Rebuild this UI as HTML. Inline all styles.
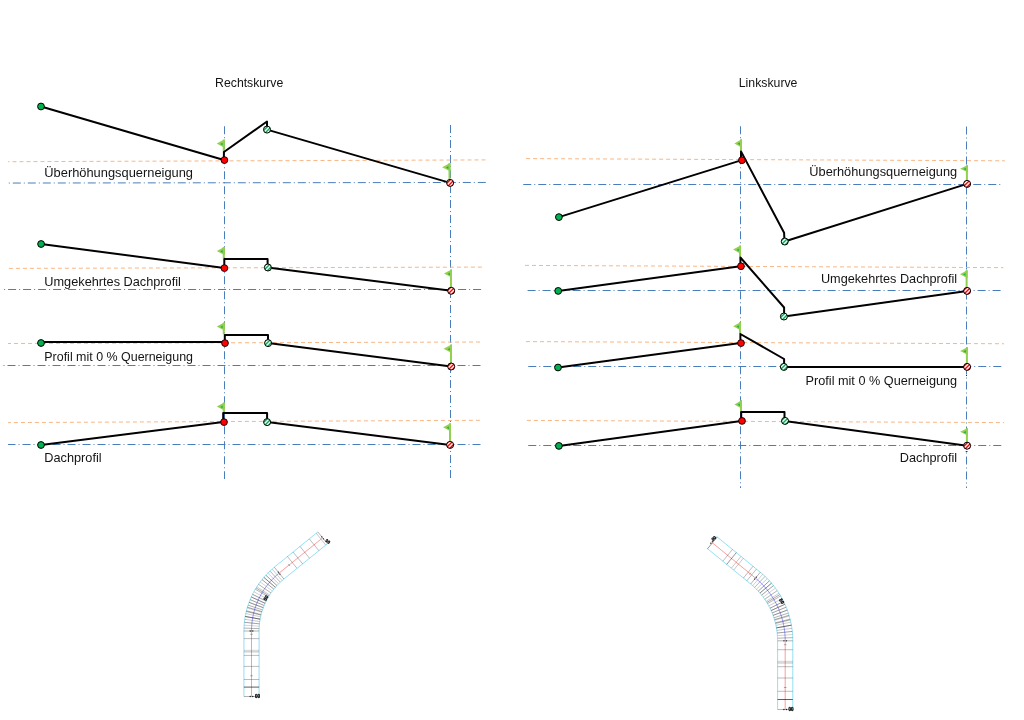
<!DOCTYPE html>
<html><head><meta charset="utf-8"><title>Querneigung</title>
<style>
html,body{margin:0;padding:0;background:#fff;}
body{width:1024px;height:720px;overflow:hidden;font-family:"Liberation Sans",sans-serif;}
svg{display:block;opacity:.999;will-change:opacity}
text{font-family:"Liberation Sans",sans-serif;fill:#141414;}
</style></head><body>
<svg width="1024" height="720" viewBox="0 0 1024 720">

<line x1="224.5" y1="126.25" x2="224.5" y2="479" stroke="#4a7ebb" stroke-width="1" stroke-dasharray="8 3 1 3" stroke-dashoffset="0"/>
<line x1="450.5" y1="125" x2="450.5" y2="479" stroke="#4a7ebb" stroke-width="1" stroke-dasharray="8 3 1 3" stroke-dashoffset="0"/>
<line x1="740.5" y1="126.25" x2="740.5" y2="488" stroke="#4a7ebb" stroke-width="1" stroke-dasharray="8 3 1 3" stroke-dashoffset="0"/>
<line x1="966.5" y1="126.5" x2="966.5" y2="488" stroke="#4a7ebb" stroke-width="1" stroke-dasharray="8 3 1 3" stroke-dashoffset="0"/>
<line x1="8.1" y1="161.7" x2="486.3" y2="159.9" stroke="#f8ae76" stroke-width="0.9" stroke-dasharray="4 3" stroke-dashoffset="2.6"/>
<line x1="8.3" y1="183.05" x2="486.1" y2="182.45" stroke="#4a7ebb" stroke-width="1" stroke-dasharray="8 3 1 3" stroke-dashoffset="10.5"/>
<line x1="8.1" y1="268.4" x2="482" y2="267.1" stroke="#f8ae76" stroke-width="0.9" stroke-dasharray="4 3" stroke-dashoffset="6.2"/>
<line x1="4.1" y1="289.5" x2="481.2" y2="289.5" stroke="#4a7ebb" stroke-width="1" stroke-dasharray="8 3 1 3" stroke-dashoffset="11"/>
<line x1="8" y1="343.5" x2="481" y2="342" stroke="#f8ae76" stroke-width="0.9" stroke-dasharray="4 3" stroke-dashoffset="0.95"/>
<line x1="3.5" y1="365.5" x2="480.6" y2="365.5" stroke="#4a7ebb" stroke-width="1" stroke-dasharray="8 3 1 3" stroke-dashoffset="11"/>
<line x1="8" y1="422.6" x2="482" y2="420.3" stroke="#f8ae76" stroke-width="0.9" stroke-dasharray="4 3" stroke-dashoffset="1.1"/>
<line x1="8" y1="444.5" x2="480.6" y2="444.5" stroke="#4a7ebb" stroke-width="1" stroke-dasharray="8 3 1 3" stroke-dashoffset="0.5"/>
<rect x="222.75" y="139.6" width="2" height="12.4" fill="#92d050"/>
<path d="M224.75,139.3 L216.75,143.6 L224.75,147.9 Z" fill="#92d050"/>
<path d="M222.65,142.7 L220.25,144 L222.65,145.3 Z" fill="#1cae4e"/>
<rect x="448.5" y="163.1" width="2" height="16.9" fill="#92d050"/>
<path d="M450.5,162.8 L442.1,167.2 L450.5,171.6 Z" fill="#92d050"/>
<path d="M448.4,166.3 L446,167.6 L448.4,168.9 Z" fill="#1cae4e"/>
<polyline points="41,106.5 223.9,160 223.9,152 267,121.5 267,129.6 450.1,182.9" fill="none" stroke="#000" stroke-width="2" stroke-linejoin="round"/>
<circle cx="41" cy="106.5" r="3.4" fill="#00b050" stroke="#000" stroke-width="1"/>
<circle cx="224.4" cy="160.1" r="3.4" fill="#ff0000" stroke="#000" stroke-width="0.9"/>
<clipPath id="c1"><circle cx="267" cy="129.6" r="3.5"/></clipPath>
<circle cx="267" cy="129.6" r="3.5" fill="#00b050"/>
<g clip-path="url(#c1)" stroke="#fff" stroke-width="1.4"><line x1="260.75" y1="131.35" x2="268.75" y2="123.35"/><line x1="262.75" y1="133.35" x2="270.75" y2="125.35"/><line x1="264.75" y1="135.35" x2="272.75" y2="127.35"/></g>
<circle cx="267" cy="129.6" r="3.5" fill="none" stroke="#000" stroke-width="1"/>
<clipPath id="c2"><circle cx="450.1" cy="182.9" r="3.5"/></clipPath>
<circle cx="450.1" cy="182.9" r="3.5" fill="#ff0000"/>
<g clip-path="url(#c2)" stroke="#fff" stroke-width="1.4"><line x1="443.65" y1="184.45" x2="451.65" y2="176.45"/><line x1="445.65" y1="186.45" x2="453.65" y2="178.45"/><line x1="447.65" y1="188.45" x2="455.65" y2="180.45"/></g>
<circle cx="450.1" cy="182.9" r="3.5" fill="none" stroke="#000" stroke-width="1"/>
<text x="44.3" y="177.4" font-size="12.8" text-anchor="start" textLength="148.7" lengthAdjust="spacingAndGlyphs">Überhöhungsquerneigung</text>
<rect x="222.75" y="247" width="2" height="11.5" fill="#92d050"/>
<path d="M224.75,246.7 L216.75,251 L224.75,255.3 Z" fill="#92d050"/>
<path d="M222.65,250.1 L220.25,251.4 L222.65,252.7 Z" fill="#1cae4e"/>
<rect x="450" y="269.5" width="2" height="17.5" fill="#92d050"/>
<path d="M452,269.2 L444,273.5 L452,277.8 Z" fill="#92d050"/>
<path d="M449.9,272.6 L447.5,273.9 L449.9,275.2 Z" fill="#1cae4e"/>
<polyline points="41.1,244 224.3,268 224.3,259.1 267.6,259.1 267.6,267.5 451.2,290.8" fill="none" stroke="#000" stroke-width="2" stroke-linejoin="round"/>
<circle cx="41.1" cy="244" r="3.4" fill="#00b050" stroke="#000" stroke-width="1"/>
<circle cx="224.4" cy="268.1" r="3.4" fill="#ff0000" stroke="#000" stroke-width="0.9"/>
<clipPath id="c3"><circle cx="267.9" cy="267.5" r="3.5"/></clipPath>
<circle cx="267.9" cy="267.5" r="3.5" fill="#00b050"/>
<g clip-path="url(#c3)" stroke="#fff" stroke-width="1.4"><line x1="262.25" y1="269.85" x2="270.25" y2="261.85"/><line x1="264.25" y1="271.85" x2="272.25" y2="263.85"/><line x1="266.25" y1="273.85" x2="274.25" y2="265.85"/></g>
<circle cx="267.9" cy="267.5" r="3.5" fill="none" stroke="#000" stroke-width="1"/>
<clipPath id="c4"><circle cx="451.2" cy="290.8" r="3.5"/></clipPath>
<circle cx="451.2" cy="290.8" r="3.5" fill="#ff0000"/>
<g clip-path="url(#c4)" stroke="#fff" stroke-width="1.4"><line x1="444.25" y1="291.85" x2="452.25" y2="283.85"/><line x1="446.25" y1="293.85" x2="454.25" y2="285.85"/><line x1="448.25" y1="295.85" x2="456.25" y2="287.85"/><line x1="450.25" y1="297.85" x2="458.25" y2="289.85"/></g>
<circle cx="451.2" cy="290.8" r="3.5" fill="none" stroke="#000" stroke-width="1"/>
<text x="44.3" y="285.8" font-size="12.8" text-anchor="start" textLength="136.6" lengthAdjust="spacingAndGlyphs">Umgekehrtes Dachprofil</text>
<rect x="222.75" y="322.5" width="2" height="12" fill="#92d050"/>
<path d="M224.75,322.2 L216.75,326.5 L224.75,330.8 Z" fill="#92d050"/>
<path d="M222.65,325.6 L220.25,326.9 L222.65,328.2 Z" fill="#1cae4e"/>
<rect x="450" y="344.6" width="2" height="18.4" fill="#92d050"/>
<path d="M452,344.3 L443.6,348.8 L452,353.3 Z" fill="#92d050"/>
<path d="M449.9,347.9 L447.5,349.2 L449.9,350.5 Z" fill="#1cae4e"/>
<polyline points="41,342.1 224.8,342.1 224.8,335 268,335 268,343.1 451.2,366.5" fill="none" stroke="#000" stroke-width="2" stroke-linejoin="round"/>
<circle cx="41" cy="343" r="3.4" fill="#00b050" stroke="#000" stroke-width="1"/>
<circle cx="225" cy="343.1" r="3.4" fill="#ff0000" stroke="#000" stroke-width="0.9"/>
<clipPath id="c5"><circle cx="268.1" cy="343.1" r="3.5"/></clipPath>
<circle cx="268.1" cy="343.1" r="3.5" fill="#00b050"/>
<g clip-path="url(#c5)" stroke="#fff" stroke-width="1.4"><line x1="262.55" y1="345.55" x2="270.55" y2="337.55"/><line x1="264.55" y1="347.55" x2="272.55" y2="339.55"/><line x1="266.55" y1="349.55" x2="274.55" y2="341.55"/></g>
<circle cx="268.1" cy="343.1" r="3.5" fill="none" stroke="#000" stroke-width="1"/>
<clipPath id="c6"><circle cx="451.2" cy="366.5" r="3.5"/></clipPath>
<circle cx="451.2" cy="366.5" r="3.5" fill="#ff0000"/>
<g clip-path="url(#c6)" stroke="#fff" stroke-width="1.4"><line x1="444.4" y1="367.7" x2="452.4" y2="359.7"/><line x1="446.4" y1="369.7" x2="454.4" y2="361.7"/><line x1="448.4" y1="371.7" x2="456.4" y2="363.7"/><line x1="450.4" y1="373.7" x2="458.4" y2="365.7"/></g>
<circle cx="451.2" cy="366.5" r="3.5" fill="none" stroke="#000" stroke-width="1"/>
<text x="44.3" y="361.3" font-size="12.8" text-anchor="start" textLength="148.7" lengthAdjust="spacingAndGlyphs">Profil mit 0 % Querneigung</text>
<rect x="222.75" y="402.5" width="2" height="10" fill="#92d050"/>
<path d="M224.75,402.2 L216.75,406.5 L224.75,410.8 Z" fill="#92d050"/>
<path d="M222.65,405.6 L220.25,406.9 L222.65,408.2 Z" fill="#1cae4e"/>
<rect x="449" y="423.3" width="2" height="17.7" fill="#92d050"/>
<path d="M451,423 L443,427.3 L451,431.6 Z" fill="#92d050"/>
<path d="M448.9,426.4 L446.5,427.7 L448.9,429 Z" fill="#1cae4e"/>
<polyline points="41,445 223.2,422 223.2,413 267.1,413 267.1,422.1 450.1,444.9" fill="none" stroke="#000" stroke-width="2" stroke-linejoin="round"/>
<circle cx="41" cy="445" r="3.4" fill="#00b050" stroke="#000" stroke-width="1"/>
<circle cx="224" cy="422.1" r="3.4" fill="#ff0000" stroke="#000" stroke-width="0.9"/>
<clipPath id="c7"><circle cx="267.1" cy="422.1" r="3.5"/></clipPath>
<circle cx="267.1" cy="422.1" r="3.5" fill="#00b050"/>
<g clip-path="url(#c7)" stroke="#fff" stroke-width="1.4"><line x1="260.55" y1="423.55" x2="268.55" y2="415.55"/><line x1="262.55" y1="425.55" x2="270.55" y2="417.55"/><line x1="264.55" y1="427.55" x2="272.55" y2="419.55"/><line x1="266.55" y1="429.55" x2="274.55" y2="421.55"/></g>
<circle cx="267.1" cy="422.1" r="3.5" fill="none" stroke="#000" stroke-width="1"/>
<clipPath id="c8"><circle cx="450.1" cy="444.9" r="3.5"/></clipPath>
<circle cx="450.1" cy="444.9" r="3.5" fill="#ff0000"/>
<g clip-path="url(#c8)" stroke="#fff" stroke-width="1.4"><line x1="442.65" y1="445.45" x2="450.65" y2="437.45"/><line x1="444.65" y1="447.45" x2="452.65" y2="439.45"/><line x1="446.65" y1="449.45" x2="454.65" y2="441.45"/><line x1="448.65" y1="451.45" x2="456.65" y2="443.45"/></g>
<circle cx="450.1" cy="444.9" r="3.5" fill="none" stroke="#000" stroke-width="1"/>
<text x="44.3" y="461.9" font-size="12.8" text-anchor="start" textLength="57.3" lengthAdjust="spacingAndGlyphs">Dachprofil</text>
<line x1="526.1" y1="158.6" x2="1004.8" y2="160.8" stroke="#f8ae76" stroke-width="0.9" stroke-dasharray="4 3"/>
<line x1="523.25" y1="184.5" x2="1001" y2="184.5" stroke="#4a7ebb" stroke-width="1" stroke-dasharray="8 3 1 3" stroke-dashoffset="0"/>
<line x1="525" y1="265.4" x2="1003.3" y2="267.65" stroke="#f8ae76" stroke-width="0.9" stroke-dasharray="4 3"/>
<line x1="527.6" y1="290.5" x2="1003.3" y2="290.5" stroke="#4a7ebb" stroke-width="1" stroke-dasharray="8 3 1 3" stroke-dashoffset="0"/>
<line x1="526" y1="341.6" x2="1004" y2="343.75" stroke="#f8ae76" stroke-width="0.9" stroke-dasharray="4 3"/>
<line x1="528.25" y1="366.5" x2="1004" y2="366.5" stroke="#4a7ebb" stroke-width="1" stroke-dasharray="8 3 1 3" stroke-dashoffset="0"/>
<line x1="526.9" y1="420.4" x2="1004" y2="422.6" stroke="#f8ae76" stroke-width="0.9" stroke-dasharray="4 3"/>
<line x1="528.25" y1="445.5" x2="1004" y2="445.5" stroke="#4a7ebb" stroke-width="1" stroke-dasharray="8 3 1 3" stroke-dashoffset="0"/>
<rect x="740" y="139.4" width="2" height="12.1" fill="#92d050"/>
<path d="M742,139.1 L734.4,143.4 L742,147.7 Z" fill="#92d050"/>
<path d="M739.9,142.5 L737.5,143.8 L739.9,145.1 Z" fill="#1cae4e"/>
<rect x="965.9" y="165.3" width="2" height="15.2" fill="#92d050"/>
<path d="M967.9,165 L960.1,168.65 L967.9,172.3 Z" fill="#92d050"/>
<path d="M965.8,167.75 L963.4,169.05 L965.8,170.35 Z" fill="#1cae4e"/>
<polyline points="558.9,217.1 741,160.4 741,151.4 784.1,232.75 784.5,241.5 967.1,183.9" fill="none" stroke="#000" stroke-width="2" stroke-linejoin="round"/>
<circle cx="558.9" cy="217.1" r="3.4" fill="#00b050" stroke="#000" stroke-width="1"/>
<circle cx="741.9" cy="160.25" r="3.4" fill="#ff0000" stroke="#000" stroke-width="0.9"/>
<clipPath id="c9"><circle cx="784.75" cy="241.5" r="3.5"/></clipPath>
<circle cx="784.75" cy="241.5" r="3.5" fill="#00b050"/>
<g clip-path="url(#c9)" stroke="#fff" stroke-width="1.4"><line x1="777.67" y1="242.43" x2="785.67" y2="234.43"/><line x1="779.67" y1="244.42" x2="787.67" y2="236.42"/><line x1="781.67" y1="246.42" x2="789.67" y2="238.42"/><line x1="783.67" y1="248.42" x2="791.67" y2="240.42"/></g>
<circle cx="784.75" cy="241.5" r="3.5" fill="none" stroke="#000" stroke-width="1"/>
<clipPath id="c10"><circle cx="967.1" cy="183.9" r="3.5"/></clipPath>
<circle cx="967.1" cy="183.9" r="3.5" fill="#ff0000"/>
<g clip-path="url(#c10)" stroke="#fff" stroke-width="1.4"><line x1="959.65" y1="184.45" x2="967.65" y2="176.45"/><line x1="961.65" y1="186.45" x2="969.65" y2="178.45"/><line x1="963.65" y1="188.45" x2="971.65" y2="180.45"/><line x1="965.65" y1="190.45" x2="973.65" y2="182.45"/></g>
<circle cx="967.1" cy="183.9" r="3.5" fill="none" stroke="#000" stroke-width="1"/>
<text x="957.1" y="175.8" font-size="12.8" text-anchor="end" textLength="147.8" lengthAdjust="spacingAndGlyphs">Überhöhungsquerneigung</text>
<rect x="739" y="245.6" width="2" height="11.9" fill="#92d050"/>
<path d="M741,245.3 L733.1,249.6 L741,253.9 Z" fill="#92d050"/>
<path d="M738.9,248.7 L736.5,250 L738.9,251.3 Z" fill="#1cae4e"/>
<rect x="965.6" y="270.3" width="2" height="17.2" fill="#92d050"/>
<path d="M967.6,270 L960,274.15 L967.6,278.3 Z" fill="#92d050"/>
<path d="M965.5,273.25 L963.1,274.55 L965.5,275.85 Z" fill="#1cae4e"/>
<polyline points="558.2,290.9 740.4,266.2 740.4,257.5 784.1,307.5 784.1,316.5 967.1,290.9" fill="none" stroke="#000" stroke-width="2" stroke-linejoin="round"/>
<circle cx="558.2" cy="290.9" r="3.4" fill="#00b050" stroke="#000" stroke-width="1"/>
<circle cx="741" cy="266.25" r="3.4" fill="#ff0000" stroke="#000" stroke-width="0.9"/>
<clipPath id="c11"><circle cx="783.9" cy="316.5" r="3.5"/></clipPath>
<circle cx="783.9" cy="316.5" r="3.5" fill="#00b050"/>
<g clip-path="url(#c11)" stroke="#fff" stroke-width="1.4"><line x1="777.75" y1="318.35" x2="785.75" y2="310.35"/><line x1="779.75" y1="320.35" x2="787.75" y2="312.35"/><line x1="781.75" y1="322.35" x2="789.75" y2="314.35"/></g>
<circle cx="783.9" cy="316.5" r="3.5" fill="none" stroke="#000" stroke-width="1"/>
<clipPath id="c12"><circle cx="967.1" cy="290.9" r="3.5"/></clipPath>
<circle cx="967.1" cy="290.9" r="3.5" fill="#ff0000"/>
<g clip-path="url(#c12)" stroke="#fff" stroke-width="1.4"><line x1="960.15" y1="291.95" x2="968.15" y2="283.95"/><line x1="962.15" y1="293.95" x2="970.15" y2="285.95"/><line x1="964.15" y1="295.95" x2="972.15" y2="287.95"/><line x1="966.15" y1="297.95" x2="974.15" y2="289.95"/></g>
<circle cx="967.1" cy="290.9" r="3.5" fill="none" stroke="#000" stroke-width="1"/>
<text x="957.1" y="283.4" font-size="12.8" text-anchor="end" textLength="136.2" lengthAdjust="spacingAndGlyphs">Umgekehrtes Dachprofil</text>
<rect x="739" y="322.25" width="2" height="11.75" fill="#92d050"/>
<path d="M741,321.95 L733.1,326.25 L741,330.55 Z" fill="#92d050"/>
<path d="M738.9,325.35 L736.5,326.65 L738.9,327.95 Z" fill="#1cae4e"/>
<rect x="965.9" y="347.2" width="2" height="16.3" fill="#92d050"/>
<path d="M967.9,346.9 L960.1,350.95 L967.9,355 Z" fill="#92d050"/>
<path d="M965.8,350.05 L963.4,351.35 L965.8,352.65 Z" fill="#1cae4e"/>
<polyline points="558,367.5 740.4,343 740.4,334 784.1,359 784.1,366.9 967.1,366.9" fill="none" stroke="#000" stroke-width="2" stroke-linejoin="round"/>
<circle cx="558" cy="367.5" r="3.4" fill="#00b050" stroke="#000" stroke-width="1"/>
<circle cx="741" cy="343.1" r="3.4" fill="#ff0000" stroke="#000" stroke-width="0.9"/>
<clipPath id="c13"><circle cx="783.9" cy="366.9" r="3.5"/></clipPath>
<circle cx="783.9" cy="366.9" r="3.5" fill="#00b050"/>
<g clip-path="url(#c13)" stroke="#fff" stroke-width="1.4"><line x1="776.55" y1="367.55" x2="784.55" y2="359.55"/><line x1="778.55" y1="369.55" x2="786.55" y2="361.55"/><line x1="780.55" y1="371.55" x2="788.55" y2="363.55"/><line x1="782.55" y1="373.55" x2="790.55" y2="365.55"/></g>
<circle cx="783.9" cy="366.9" r="3.5" fill="none" stroke="#000" stroke-width="1"/>
<clipPath id="c14"><circle cx="967.1" cy="366.9" r="3.5"/></clipPath>
<circle cx="967.1" cy="366.9" r="3.5" fill="#ff0000"/>
<g clip-path="url(#c14)" stroke="#fff" stroke-width="1.4"><line x1="960.15" y1="367.95" x2="968.15" y2="359.95"/><line x1="962.15" y1="369.95" x2="970.15" y2="361.95"/><line x1="964.15" y1="371.95" x2="972.15" y2="363.95"/><line x1="966.15" y1="373.95" x2="974.15" y2="365.95"/></g>
<circle cx="967.1" cy="366.9" r="3.5" fill="none" stroke="#000" stroke-width="1"/>
<text x="957.1" y="384.9" font-size="12.8" text-anchor="end" textLength="151.5" lengthAdjust="spacingAndGlyphs">Profil mit 0 % Querneigung</text>
<rect x="740" y="400.4" width="2" height="11.1" fill="#92d050"/>
<path d="M742,400.1 L734.4,404.4 L742,408.7 Z" fill="#92d050"/>
<path d="M739.9,403.5 L737.5,404.8 L739.9,406.1 Z" fill="#1cae4e"/>
<rect x="965.9" y="428.2" width="2" height="14.3" fill="#92d050"/>
<path d="M967.9,427.9 L960.1,431.8 L967.9,435.7 Z" fill="#92d050"/>
<path d="M965.8,430.9 L963.4,432.2 L965.8,433.5 Z" fill="#1cae4e"/>
<polyline points="558.9,445.9 741.2,420.9 741.2,412.1 784.5,412.1 784.5,420.9 967.1,445.7" fill="none" stroke="#000" stroke-width="2" stroke-linejoin="round"/>
<circle cx="558.9" cy="445.9" r="3.4" fill="#00b050" stroke="#000" stroke-width="1"/>
<circle cx="742" cy="420.9" r="3.4" fill="#ff0000" stroke="#000" stroke-width="0.9"/>
<clipPath id="c15"><circle cx="785" cy="420.9" r="3.5"/></clipPath>
<circle cx="785" cy="420.9" r="3.5" fill="#00b050"/>
<g clip-path="url(#c15)" stroke="#fff" stroke-width="1.4"><line x1="778.1" y1="422" x2="786.1" y2="414"/><line x1="780.1" y1="424" x2="788.1" y2="416"/><line x1="782.1" y1="426" x2="790.1" y2="418"/><line x1="784.1" y1="428" x2="792.1" y2="420"/></g>
<circle cx="785" cy="420.9" r="3.5" fill="none" stroke="#000" stroke-width="1"/>
<clipPath id="c16"><circle cx="967.1" cy="445.7" r="3.5"/></clipPath>
<circle cx="967.1" cy="445.7" r="3.5" fill="#ff0000"/>
<g clip-path="url(#c16)" stroke="#fff" stroke-width="1.4"><line x1="960.75" y1="447.35" x2="968.75" y2="439.35"/><line x1="962.75" y1="449.35" x2="970.75" y2="441.35"/><line x1="964.75" y1="451.35" x2="972.75" y2="443.35"/></g>
<circle cx="967.1" cy="445.7" r="3.5" fill="none" stroke="#000" stroke-width="1"/>
<text x="957.1" y="461.9" font-size="12.8" text-anchor="end" textLength="57.3" lengthAdjust="spacingAndGlyphs">Dachprofil</text>
<text x="215.1" y="86.8" font-size="12.7" text-anchor="start" textLength="68.1" lengthAdjust="spacingAndGlyphs">Rechtskurve</text>
<text x="738.75" y="86.8" font-size="12.7" text-anchor="start" textLength="58.7" lengthAdjust="spacingAndGlyphs">Linkskurve</text>
<rect x="965.7" y="451" width="1.8" height="1" fill="#333"/><rect x="966" y="375" width="1" height="1" fill="#222"/>
<g fill="none" stroke-linecap="butt">
<polyline points="243.9,696.5 243.9,631 243.91,629.78 243.94,628.56 243.98,627.35 244.04,626.13 244.13,624.92 244.23,623.7 244.34,622.49 244.48,621.28 244.63,620.07 244.8,618.86 244.99,617.66 245.2,616.46 245.42,615.26 245.66,614.07 245.92,612.88 246.2,611.69 246.5,610.51 246.81,609.34 247.14,608.16 247.49,607 247.85,605.83 248.23,604.68 248.63,603.53 249.05,602.38 249.48,601.24 249.93,600.11 250.4,598.99 250.88,597.87 251.38,596.76 251.9,595.66 252.43,594.56 252.98,593.47 253.54,592.39 254.12,591.32 254.72,590.26 255.33,589.21 255.96,588.16 256.6,587.13 257.26,586.11 257.94,585.09 258.62,584.09 259.33,583.09 260.05,582.11 260.78,581.13 261.53,580.17 262.29,579.22 263.06,578.28 263.85,577.35 264.65,576.44 265.47,575.53 266.3,574.64 267.14,573.76 268,572.9 268.87,572.04 269.75,571.2 270.64,570.37 271.55,569.56 272.46,568.76 273.39,567.97 274.33,567.2 317.85,531.95" stroke="#79d8f2" stroke-width="0.8"/>
<polyline points="259.1,696.5 259.1,631 259.11,630.01 259.13,629.02 259.17,628.02 259.22,627.03 259.28,626.04 259.36,625.05 259.46,624.07 259.57,623.08 259.7,622.09 259.83,621.11 259.99,620.13 260.16,619.15 260.34,618.18 260.54,617.2 260.75,616.24 260.98,615.27 261.22,614.31 261.47,613.35 261.74,612.39 262.02,611.44 262.32,610.49 262.63,609.55 262.96,608.61 263.3,607.68 263.65,606.75 264.02,605.83 264.4,604.91 264.79,604 265.2,603.1 265.62,602.2 266.05,601.31 266.5,600.42 266.96,599.54 267.43,598.67 267.92,597.8 268.42,596.95 268.93,596.09 269.45,595.25 269.99,594.42 270.54,593.59 271.1,592.77 271.67,591.96 272.26,591.16 272.85,590.37 273.46,589.58 274.08,588.81 274.71,588.04 275.36,587.29 276.01,586.54 276.68,585.8 277.35,585.08 278.04,584.36 278.74,583.65 279.44,582.96 280.16,582.27 280.89,581.6 281.63,580.93 282.37,580.28 283.13,579.64 283.9,579.01 327.42,543.77" stroke="#79d8f2" stroke-width="0.8"/>
<line x1="251.5" y1="696.5" x2="251.5" y2="631" stroke="#ff5a5a" stroke-width="0.6"/>
<polyline points="251.5,631 251.51,629.89 251.53,628.79 251.57,627.69 251.63,626.58 251.7,625.48 251.79,624.38 251.9,623.28 252.02,622.18 252.16,621.08 252.32,619.99 252.49,618.9 252.68,617.81 252.88,616.72 253.1,615.64 253.34,614.56 253.59,613.48 253.86,612.41 254.14,611.34 254.44,610.28 254.76,609.22 255.09,608.16 255.43,607.11 255.79,606.07 256.17,605.03 256.57,604 256.97,602.97 257.4,601.95 257.84,600.94 258.29,599.93 258.76,598.93 259.24,597.93 259.74,596.95 260.25,595.97 260.78,595 261.32,594.03 261.87,593.08 262.44,592.13 263.03,591.19 263.63,590.26 264.24,589.34 264.86,588.43 265.5,587.53 266.15,586.63 266.82,585.75 267.49,584.88 268.18,584.01 268.89,583.16 269.6,582.32 270.33,581.49 271.07,580.67 271.83,579.86 272.59,579.06 273.37,578.27 274.15,577.5 274.95,576.74 275.76,575.99 276.59,575.25 277.42,574.52 278.26,573.8 279.12,573.1" stroke="#5555ff" stroke-width="0.6"/>
<line x1="279.12" y1="573.1" x2="322.64" y2="537.86" stroke="#ff5a5a" stroke-width="0.6"/>
<line x1="243.9" y1="696.5" x2="259.1" y2="696.5" stroke="#222" stroke-width="0.5" stroke-opacity="0.7"/>
<line x1="243.9" y1="687.1" x2="259.1" y2="687.1" stroke="#222" stroke-width="0.8" stroke-opacity="0.9"/>
<line x1="243.9" y1="679.5" x2="259.1" y2="679.5" stroke="#222" stroke-width="0.5" stroke-opacity="0.6"/>
<line x1="243.9" y1="666.4" x2="259.1" y2="666.4" stroke="#222" stroke-width="0.5" stroke-opacity="0.6"/>
<line x1="243.9" y1="655.4" x2="259.1" y2="655.4" stroke="#222" stroke-width="0.5" stroke-opacity="0.6"/>
<line x1="243.9" y1="652.2" x2="259.1" y2="652.2" stroke="#222" stroke-width="0.5" stroke-opacity="0.35"/>
<line x1="243.9" y1="651.3" x2="259.1" y2="651.3" stroke="#222" stroke-width="0.5" stroke-opacity="0.35"/>
<line x1="243.9" y1="650.3" x2="259.1" y2="650.3" stroke="#222" stroke-width="0.5" stroke-opacity="0.35"/>
<line x1="243.9" y1="638.6" x2="259.1" y2="638.6" stroke="#222" stroke-width="0.5" stroke-opacity="0.6"/>
<line x1="243.9" y1="631" x2="259.1" y2="631" stroke="#222" stroke-width="0.5" stroke-opacity="0.7"/>
<line x1="250.2" y1="675.8" x2="252.8" y2="675.8" stroke="#222" stroke-width="0.5" stroke-opacity=".7"/>
<line x1="250.2" y1="634.3" x2="252.8" y2="634.3" stroke="#222" stroke-width="0.5" stroke-opacity=".7"/>
<line x1="288.31" y1="563.98" x2="289.95" y2="566" stroke="#222" stroke-width="0.5" stroke-opacity=".7"/>
<line x1="243.95" y1="628.08" x2="259.14" y2="628.62" stroke="#222" stroke-width="0.5" stroke-opacity="0.7"/>
<line x1="244.11" y1="625.16" x2="259.27" y2="626.24" stroke="#222" stroke-width="0.5" stroke-opacity="0.4"/>
<line x1="244.37" y1="622.25" x2="259.48" y2="623.87" stroke="#222" stroke-width="0.5" stroke-opacity="0.85"/>
<line x1="244.73" y1="619.35" x2="259.78" y2="621.5" stroke="#222" stroke-width="0.5" stroke-opacity="0.5"/>
<line x1="245.2" y1="616.46" x2="260.16" y2="619.15" stroke="#222" stroke-width="0.5" stroke-opacity="0.9"/>
<line x1="245.77" y1="613.59" x2="260.62" y2="616.82" stroke="#222" stroke-width="0.5" stroke-opacity="0.45"/>
<line x1="246.44" y1="610.75" x2="261.17" y2="614.5" stroke="#222" stroke-width="0.5" stroke-opacity="0.65"/>
<line x1="247.21" y1="607.93" x2="261.8" y2="612.2" stroke="#222" stroke-width="0.5" stroke-opacity="0.45"/>
<line x1="248.08" y1="605.14" x2="262.51" y2="609.93" stroke="#222" stroke-width="0.5" stroke-opacity="0.7"/>
<line x1="249.05" y1="602.38" x2="263.3" y2="607.68" stroke="#222" stroke-width="0.5" stroke-opacity="0.4"/>
<line x1="250.12" y1="599.66" x2="264.17" y2="605.46" stroke="#222" stroke-width="0.5" stroke-opacity="0.85"/>
<line x1="251.28" y1="596.98" x2="265.11" y2="603.28" stroke="#222" stroke-width="0.5" stroke-opacity="0.5"/>
<line x1="252.54" y1="594.34" x2="266.14" y2="601.13" stroke="#222" stroke-width="0.5" stroke-opacity="0.9"/>
<line x1="253.89" y1="591.75" x2="267.24" y2="599.02" stroke="#222" stroke-width="0.5" stroke-opacity="0.45"/>
<line x1="255.33" y1="589.21" x2="268.42" y2="596.95" stroke="#222" stroke-width="0.5" stroke-opacity="0.65"/>
<line x1="256.87" y1="586.72" x2="269.67" y2="594.92" stroke="#222" stroke-width="0.5" stroke-opacity="0.45"/>
<line x1="258.49" y1="584.29" x2="270.99" y2="592.93" stroke="#222" stroke-width="0.5" stroke-opacity="0.7"/>
<line x1="260.19" y1="581.91" x2="272.38" y2="591" stroke="#222" stroke-width="0.5" stroke-opacity="0.4"/>
<line x1="261.98" y1="579.6" x2="273.83" y2="589.12" stroke="#222" stroke-width="0.5" stroke-opacity="0.85"/>
<line x1="263.85" y1="577.35" x2="275.36" y2="587.29" stroke="#222" stroke-width="0.5" stroke-opacity="0.5"/>
<line x1="265.8" y1="575.18" x2="276.95" y2="585.51" stroke="#222" stroke-width="0.5" stroke-opacity="0.9"/>
<line x1="267.83" y1="573.07" x2="278.6" y2="583.79" stroke="#222" stroke-width="0.5" stroke-opacity="0.45"/>
<line x1="269.92" y1="571.03" x2="280.31" y2="582.14" stroke="#222" stroke-width="0.5" stroke-opacity="0.65"/>
<line x1="272.09" y1="569.08" x2="282.07" y2="580.54" stroke="#222" stroke-width="0.5" stroke-opacity="0.45"/>
<line x1="245.2" y1="616.46" x2="260.16" y2="619.15" stroke="#222" stroke-width="0.7" stroke-opacity="0.55"/>
<line x1="246.26" y1="611.46" x2="261.02" y2="615.08" stroke="#222" stroke-width="0.7" stroke-opacity="0.55"/>
<line x1="247.42" y1="607.23" x2="261.97" y2="611.63" stroke="#222" stroke-width="0.7" stroke-opacity="0.55"/>
<line x1="249.05" y1="602.38" x2="263.3" y2="607.68" stroke="#222" stroke-width="0.7" stroke-opacity="0.55"/>
<line x1="251.28" y1="596.98" x2="265.11" y2="603.28" stroke="#222" stroke-width="0.7" stroke-opacity="0.55"/>
<line x1="256.09" y1="587.96" x2="269.03" y2="595.93" stroke="#222" stroke-width="0.7" stroke-opacity="0.55"/>
<line x1="263.85" y1="577.35" x2="275.36" y2="587.29" stroke="#222" stroke-width="0.7" stroke-opacity="0.55"/>
<line x1="274.33" y1="567.2" x2="283.9" y2="579.01" stroke="#222" stroke-width="0.5" stroke-opacity="0.7"/>
<line x1="287.47" y1="556.56" x2="297.03" y2="568.37" stroke="#222" stroke-width="0.5" stroke-opacity="0.6"/>
<line x1="293.06" y1="552.03" x2="302.63" y2="563.84" stroke="#222" stroke-width="0.5" stroke-opacity="0.6"/>
<line x1="299.98" y1="546.43" x2="309.54" y2="558.24" stroke="#222" stroke-width="0.5" stroke-opacity="0.6"/>
<line x1="309.3" y1="538.88" x2="318.87" y2="550.69" stroke="#222" stroke-width="0.5" stroke-opacity="0.6"/>
<line x1="316.22" y1="533.28" x2="325.79" y2="545.09" stroke="#222" stroke-width="0.5" stroke-opacity="0.5"/>
<line x1="317.85" y1="531.95" x2="327.42" y2="543.77" stroke="#222" stroke-width="0.5" stroke-opacity="0.7"/>
<circle cx="250.2" cy="696.5" r="0.65" fill="#111" stroke="none"/>
<circle cx="252.8" cy="696.5" r="0.65" fill="#111" stroke="none"/>
<circle cx="250.2" cy="631" r="0.65" fill="#111" stroke="none"/>
<circle cx="252.8" cy="631" r="0.65" fill="#111" stroke="none"/>
<circle cx="278.3" cy="572.09" r="0.65" fill="#111" stroke="none"/>
<circle cx="279.93" cy="574.11" r="0.65" fill="#111" stroke="none"/>
<circle cx="321.82" cy="536.85" r="0.65" fill="#111" stroke="none"/>
<circle cx="323.45" cy="538.87" r="0.65" fill="#111" stroke="none"/>
</g>
<text x="257.6" y="698.1" font-size="4.6" font-weight="bold" fill="#111" stroke="#111" stroke-width="0.35" text-anchor="middle" transform="rotate(0 257.6 698.1)">00</text>
<text x="267.2" y="598.7" font-size="4.6" font-weight="bold" fill="#111" stroke="#111" stroke-width="0.35" text-anchor="middle" transform="rotate(-60 267.2 598.7)">50</text>
<text x="326.9" y="542.4" font-size="4.2" font-weight="bold" fill="#111" stroke="#111" stroke-width="0.35" text-anchor="middle" transform="rotate(40 326.9 542.4)">00</text>
<g fill="none" stroke-linecap="butt">
<polyline points="777.6,709.5 777.6,640.8 777.59,639.72 777.57,638.64 777.53,637.55 777.47,636.47 777.4,635.39 777.31,634.31 777.21,633.24 777.09,632.16 776.95,631.09 776.8,630.01 776.64,628.94 776.45,627.88 776.26,626.81 776.04,625.75 775.81,624.69 775.57,623.64 775.31,622.59 775.03,621.54 774.74,620.5 774.43,619.46 774.11,618.43 773.77,617.4 773.42,616.38 773.05,615.36 772.67,614.35 772.27,613.34 771.86,612.34 771.43,611.34 770.99,610.36 770.53,609.37 770.06,608.4 769.58,607.43 769.08,606.47 768.56,605.52 768.04,604.57 767.5,603.64 766.94,602.71 766.37,601.78 765.79,600.87 765.19,599.97 764.59,599.07 763.96,598.19 763.33,597.31 762.68,596.44 762.02,595.59 761.35,594.74 760.66,593.9 759.96,593.07 759.25,592.25 758.53,591.45 757.8,590.65 757.05,589.87 756.3,589.09 755.53,588.33 754.75,587.58 753.96,586.84 753.16,586.11 752.35,585.4 751.52,584.69 750.69,584 706.81,548.09" stroke="#79d8f2" stroke-width="0.8"/>
<polyline points="792.8,709.5 792.8,640.8 792.79,639.49 792.76,638.19 792.71,636.88 792.65,635.58 792.56,634.27 792.45,632.97 792.33,631.67 792.18,630.37 792.02,629.07 791.84,627.78 791.64,626.49 791.42,625.2 791.18,623.92 790.92,622.64 790.64,621.36 790.34,620.09 790.03,618.82 789.7,617.56 789.34,616.3 788.97,615.04 788.58,613.8 788.18,612.55 787.75,611.32 787.31,610.09 786.85,608.87 786.37,607.65 785.87,606.44 785.35,605.24 784.82,604.05 784.27,602.87 783.7,601.69 783.12,600.52 782.51,599.36 781.89,598.21 781.26,597.07 780.6,595.94 779.93,594.82 779.25,593.7 778.54,592.6 777.83,591.51 777.09,590.43 776.34,589.36 775.57,588.3 774.79,587.26 773.99,586.22 773.18,585.2 772.35,584.19 771.51,583.19 770.65,582.2 769.78,581.23 768.9,580.27 768,579.32 767.08,578.39 766.16,577.47 765.22,576.56 764.26,575.67 763.3,574.79 762.32,573.92 761.32,573.07 760.32,572.24 716.44,536.33" stroke="#79d8f2" stroke-width="0.8"/>
<line x1="785.2" y1="709.5" x2="785.2" y2="640.8" stroke="#ff5a5a" stroke-width="0.6"/>
<polyline points="785.2,640.8 785.19,639.61 785.16,638.41 785.12,637.22 785.06,636.02 784.98,634.83 784.88,633.64 784.77,632.45 784.64,631.27 784.49,630.08 784.32,628.9 784.14,627.72 783.93,626.54 783.72,625.37 783.48,624.19 783.23,623.03 782.96,621.86 782.67,620.7 782.36,619.55 782.04,618.4 781.7,617.25 781.35,616.11 780.97,614.98 780.58,613.85 780.18,612.72 779.76,611.61 779.32,610.5 778.86,609.39 778.39,608.29 777.9,607.2 777.4,606.12 776.88,605.04 776.35,603.98 775.79,602.92 775.23,601.86 774.65,600.82 774.05,599.79 773.44,598.76 772.81,597.74 772.17,596.74 771.51,595.74 770.84,594.75 770.15,593.77 769.45,592.81 768.74,591.85 768.01,590.9 767.26,589.97 766.51,589.04 765.74,588.13 764.95,587.23 764.16,586.34 763.35,585.46 762.53,584.59 761.69,583.74 760.84,582.9 759.98,582.07 759.11,581.25 758.23,580.45 757.33,579.66 756.42,578.88 755.5,578.12" stroke="#5555ff" stroke-width="0.6"/>
<line x1="755.5" y1="578.12" x2="711.63" y2="542.21" stroke="#ff5a5a" stroke-width="0.6"/>
<line x1="777.6" y1="709.5" x2="792.8" y2="709.5" stroke="#222" stroke-width="0.5" stroke-opacity="0.7"/>
<line x1="777.6" y1="699.5" x2="792.8" y2="699.5" stroke="#222" stroke-width="0.8" stroke-opacity="0.9"/>
<line x1="777.6" y1="691.3" x2="792.8" y2="691.3" stroke="#222" stroke-width="0.5" stroke-opacity="0.6"/>
<line x1="777.6" y1="678" x2="792.8" y2="678" stroke="#222" stroke-width="0.5" stroke-opacity="0.6"/>
<line x1="777.6" y1="666.7" x2="792.8" y2="666.7" stroke="#222" stroke-width="0.5" stroke-opacity="0.6"/>
<line x1="777.6" y1="663.3" x2="792.8" y2="663.3" stroke="#222" stroke-width="0.5" stroke-opacity="0.35"/>
<line x1="777.6" y1="662.3" x2="792.8" y2="662.3" stroke="#222" stroke-width="0.5" stroke-opacity="0.35"/>
<line x1="777.6" y1="661.3" x2="792.8" y2="661.3" stroke="#222" stroke-width="0.5" stroke-opacity="0.35"/>
<line x1="777.6" y1="649.7" x2="792.8" y2="649.7" stroke="#222" stroke-width="0.5" stroke-opacity="0.6"/>
<line x1="777.6" y1="640.8" x2="792.8" y2="640.8" stroke="#222" stroke-width="0.5" stroke-opacity="0.7"/>
<line x1="783.9" y1="687.5" x2="786.5" y2="687.5" stroke="#222" stroke-width="0.5" stroke-opacity=".7"/>
<line x1="783.9" y1="644.7" x2="786.5" y2="644.7" stroke="#222" stroke-width="0.5" stroke-opacity=".7"/>
<line x1="749.24" y1="574.68" x2="750.89" y2="572.66" stroke="#222" stroke-width="0.5" stroke-opacity=".7"/>
<line x1="777.55" y1="638.2" x2="792.74" y2="637.66" stroke="#222" stroke-width="0.5" stroke-opacity="0.7"/>
<line x1="777.42" y1="635.61" x2="792.58" y2="634.53" stroke="#222" stroke-width="0.5" stroke-opacity="0.4"/>
<line x1="777.19" y1="633.02" x2="792.3" y2="631.41" stroke="#222" stroke-width="0.5" stroke-opacity="0.85"/>
<line x1="776.87" y1="630.44" x2="791.91" y2="628.3" stroke="#222" stroke-width="0.5" stroke-opacity="0.5"/>
<line x1="776.45" y1="627.88" x2="791.42" y2="625.2" stroke="#222" stroke-width="0.5" stroke-opacity="0.9"/>
<line x1="775.95" y1="625.33" x2="790.81" y2="622.12" stroke="#222" stroke-width="0.5" stroke-opacity="0.45"/>
<line x1="775.36" y1="622.8" x2="790.09" y2="619.07" stroke="#222" stroke-width="0.5" stroke-opacity="0.65"/>
<line x1="774.68" y1="620.29" x2="789.27" y2="616.05" stroke="#222" stroke-width="0.5" stroke-opacity="0.45"/>
<line x1="773.91" y1="617.81" x2="788.34" y2="613.05" stroke="#222" stroke-width="0.5" stroke-opacity="0.7"/>
<line x1="773.05" y1="615.36" x2="787.31" y2="610.09" stroke="#222" stroke-width="0.5" stroke-opacity="0.4"/>
<line x1="772.11" y1="612.94" x2="786.17" y2="607.17" stroke="#222" stroke-width="0.5" stroke-opacity="0.85"/>
<line x1="771.08" y1="610.55" x2="784.93" y2="604.29" stroke="#222" stroke-width="0.5" stroke-opacity="0.5"/>
<line x1="769.97" y1="608.21" x2="783.58" y2="601.46" stroke="#222" stroke-width="0.5" stroke-opacity="0.9"/>
<line x1="768.77" y1="605.9" x2="782.14" y2="598.67" stroke="#222" stroke-width="0.5" stroke-opacity="0.45"/>
<line x1="767.5" y1="603.64" x2="780.6" y2="595.94" stroke="#222" stroke-width="0.5" stroke-opacity="0.65"/>
<line x1="766.14" y1="601.42" x2="778.97" y2="593.26" stroke="#222" stroke-width="0.5" stroke-opacity="0.45"/>
<line x1="764.71" y1="599.25" x2="777.24" y2="590.65" stroke="#222" stroke-width="0.5" stroke-opacity="0.7"/>
<line x1="763.2" y1="597.14" x2="775.42" y2="588.09" stroke="#222" stroke-width="0.5" stroke-opacity="0.4"/>
<line x1="761.62" y1="595.08" x2="773.51" y2="585.61" stroke="#222" stroke-width="0.5" stroke-opacity="0.85"/>
<line x1="759.96" y1="593.07" x2="771.51" y2="583.19" stroke="#222" stroke-width="0.5" stroke-opacity="0.5"/>
<line x1="758.24" y1="591.13" x2="769.43" y2="580.84" stroke="#222" stroke-width="0.5" stroke-opacity="0.9"/>
<line x1="756.45" y1="589.25" x2="767.27" y2="578.57" stroke="#222" stroke-width="0.5" stroke-opacity="0.45"/>
<line x1="754.59" y1="587.43" x2="765.03" y2="576.38" stroke="#222" stroke-width="0.5" stroke-opacity="0.65"/>
<line x1="752.67" y1="585.68" x2="762.71" y2="574.27" stroke="#222" stroke-width="0.5" stroke-opacity="0.45"/>
<line x1="776.45" y1="627.88" x2="791.42" y2="625.2" stroke="#222" stroke-width="0.7" stroke-opacity="0.55"/>
<line x1="775.52" y1="623.43" x2="790.28" y2="619.83" stroke="#222" stroke-width="0.7" stroke-opacity="0.55"/>
<line x1="774.49" y1="619.67" x2="789.05" y2="615.29" stroke="#222" stroke-width="0.7" stroke-opacity="0.55"/>
<line x1="773.05" y1="615.36" x2="787.31" y2="610.09" stroke="#222" stroke-width="0.7" stroke-opacity="0.55"/>
<line x1="771.08" y1="610.55" x2="784.93" y2="604.29" stroke="#222" stroke-width="0.7" stroke-opacity="0.55"/>
<line x1="766.83" y1="602.52" x2="779.8" y2="594.59" stroke="#222" stroke-width="0.7" stroke-opacity="0.55"/>
<line x1="759.96" y1="593.07" x2="771.51" y2="583.19" stroke="#222" stroke-width="0.7" stroke-opacity="0.55"/>
<line x1="750.69" y1="584" x2="760.32" y2="572.24" stroke="#222" stroke-width="0.5" stroke-opacity="0.7"/>
<line x1="746.82" y1="580.83" x2="756.45" y2="569.07" stroke="#222" stroke-width="0.5" stroke-opacity="0.6"/>
<line x1="743.42" y1="578.05" x2="753.04" y2="566.28" stroke="#222" stroke-width="0.5" stroke-opacity="0.6"/>
<line x1="733.67" y1="570.07" x2="743.29" y2="558.3" stroke="#222" stroke-width="0.5" stroke-opacity="0.5"/>
<line x1="731.34" y1="568.17" x2="740.97" y2="556.4" stroke="#222" stroke-width="0.5" stroke-opacity="0.5"/>
<line x1="726.7" y1="564.37" x2="736.33" y2="552.6" stroke="#222" stroke-width="0.6" stroke-opacity="0.8"/>
<line x1="722.83" y1="561.2" x2="732.46" y2="549.44" stroke="#222" stroke-width="0.5" stroke-opacity="0.6"/>
<line x1="707.59" y1="548.72" x2="717.21" y2="536.96" stroke="#222" stroke-width="0.6" stroke-opacity="0.8"/>
<circle cx="783.9" cy="709.5" r="0.65" fill="#111" stroke="none"/>
<circle cx="786.5" cy="709.5" r="0.65" fill="#111" stroke="none"/>
<circle cx="783.9" cy="640.8" r="0.65" fill="#111" stroke="none"/>
<circle cx="786.5" cy="640.8" r="0.65" fill="#111" stroke="none"/>
<circle cx="754.68" cy="579.12" r="0.65" fill="#111" stroke="none"/>
<circle cx="756.33" cy="577.11" r="0.65" fill="#111" stroke="none"/>
<circle cx="710.8" cy="543.21" r="0.65" fill="#111" stroke="none"/>
<circle cx="712.45" cy="541.2" r="0.65" fill="#111" stroke="none"/>
</g>
<text x="791" y="711.1" font-size="4.6" font-weight="bold" fill="#111" stroke="#111" stroke-width="0.35" text-anchor="middle" transform="rotate(0 791 711.1)">00</text>
<text x="780.4" y="602" font-size="4.6" font-weight="bold" fill="#111" stroke="#111" stroke-width="0.35" text-anchor="middle" transform="rotate(60 780.4 602)">50</text>
<text x="714.8" y="539.6" font-size="4.2" font-weight="bold" fill="#111" stroke="#111" stroke-width="0.35" text-anchor="middle" transform="rotate(-40 714.8 539.6)">00</text>
</svg></body></html>
